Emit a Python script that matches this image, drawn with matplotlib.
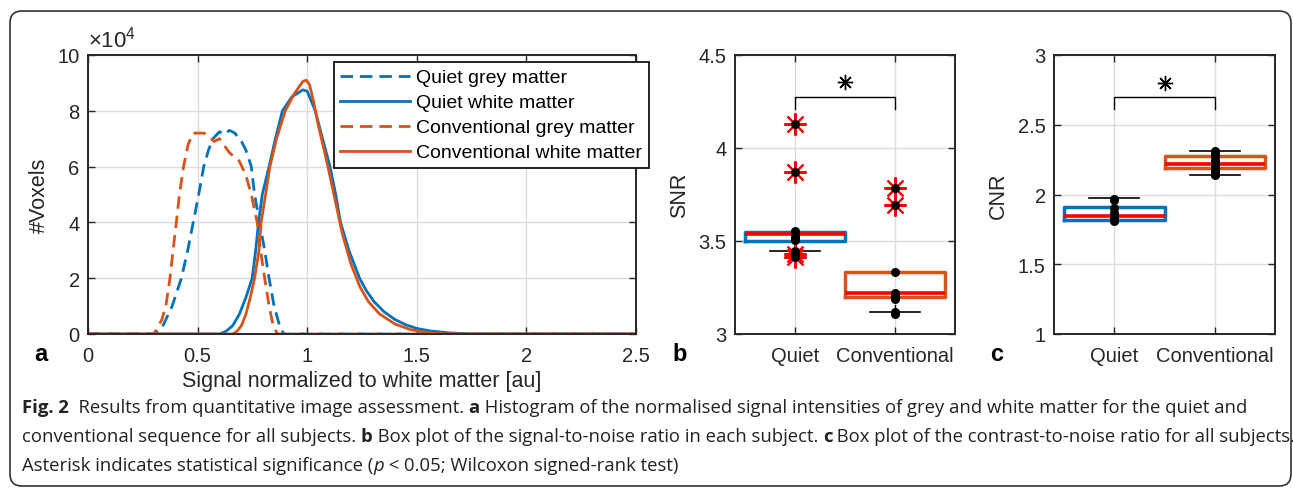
import numpy as np
import matplotlib
matplotlib.use("Agg")
import matplotlib.pyplot as plt
from matplotlib.patches import FancyBboxPatch
from matplotlib.transforms import IdentityTransform
from matplotlib import font_manager

W, H = 1293, 489
BLUE = "#0072BD"
ORANGE = "#D95319"
DARK = "#262626"

plt.rcParams["font.family"] = ["Liberation Sans", "DejaVu Sans"]
plt.rcParams["mathtext.fontset"] = "custom"
plt.rcParams["mathtext.rm"] = "Liberation Sans"

# ---- panel a: histogram curves (counts) ----
qg_x = [0, 0.30, 0.336, 0.384, 0.426, 0.455, 0.48, 0.505, 0.528, 0.55, 0.57, 0.60, 0.62,
        0.645, 0.67, 0.70, 0.72, 0.745, 0.76, 0.783, 0.806, 0.826, 0.849, 0.874, 0.893, 2.5]
qg_y = [0, 0, 2000, 10000, 20000, 30000, 40000, 50000, 60000, 66000, 70000, 72500, 71500,
        73000, 72000, 69000, 66000, 60000, 50000, 40000, 30000, 20000, 10000, 3000, 0, 0]

qw_x = [0, 0.60, 0.63, 0.66, 0.69, 0.72, 0.749, 0.765, 0.778, 0.795, 0.826, 0.855, 0.887,
        0.93, 0.98, 1.00, 1.037, 1.07, 1.104, 1.13, 1.152, 1.19, 1.239, 1.27, 1.306, 1.35,
        1.40, 1.45, 1.50, 1.56, 1.65, 1.75, 2.5]
qw_y = [0, 0, 1000, 3000, 7000, 13000, 20000, 30000, 40000, 50000, 60000, 70000, 80000,
        85000, 87500, 87000, 80000, 70000, 60000, 50000, 40000, 30000, 20000, 15500, 11500,
        8000, 5200, 3300, 2000, 1100, 400, 0, 0]

cg_x = [0, 0.30, 0.336, 0.355, 0.374, 0.388, 0.403, 0.417, 0.436, 0.457, 0.48, 0.53, 0.55,
        0.575, 0.60, 0.645, 0.69, 0.72, 0.745, 0.772, 0.787, 0.806, 0.826, 0.845, 0.864, 2.5]
cg_y = [0, 0, 5000, 10000, 20000, 30000, 40000, 50000, 60000, 68000, 72000, 72000, 71000,
        69000, 70000, 65000, 62000, 57000, 50000, 40000, 30000, 20000, 10000, 3000, 0, 0]

cw_x = [0, 0.66, 0.68, 0.70, 0.72, 0.74, 0.76, 0.78, 0.79, 0.81, 0.83, 0.86, 0.90, 0.94,
        0.98, 0.995, 1.01, 1.03, 1.05, 1.08, 1.10, 1.13, 1.16, 1.20, 1.24, 1.28, 1.33, 1.40,
        1.47, 1.55, 1.62, 2.5]
cw_y = [0, 0, 1000, 3000, 7000, 13000, 20000, 30000, 40000, 50000, 60000, 70000, 80000,
        86000, 90500, 91000, 89500, 83000, 75000, 65000, 58000, 47000, 36000, 25000, 17000,
        11500, 7200, 3600, 1600, 500, 0, 0]

series_labels = ["Quiet grey matter", "Quiet white matter",
                 "Conventional grey matter", "Conventional white matter"]

# ---- panels b and c ----
groups = ["Quiet", "Conventional"]

snr_quiet = [4.13, 3.87, 3.555, 3.545, 3.538, 3.52, 3.505, 3.448, 3.43, 3.416]
snr_conv = [3.785, 3.695, 3.335, 3.22, 3.21, 3.20, 3.19, 3.12, 3.11]
snr_q1 = [3.50, 3.20]
snr_med = [3.535, 3.22]
snr_q3 = [3.55, 3.335]
snr_lo = [3.448, 3.118]
snr_hi = [3.55, 3.335]
snr_fliers = [[4.13, 3.87, 3.43, 3.416], [3.785, 3.695]]

cnr_quiet = [1.97, 1.96, 1.90, 1.87, 1.85, 1.83, 1.82, 1.81]
cnr_conv = [2.31, 2.29, 2.27, 2.24, 2.21, 2.19, 2.17, 2.15, 2.14]
cnr_q1 = [1.82, 2.188]
cnr_med = [1.848, 2.219]
cnr_q3 = [1.908, 2.278]
cnr_lo = [1.808, 2.142]
cnr_hi = [1.975, 2.312]

snr_bracket = [4.21, 4.276, 4.355]   # drop end, bar, asterisk
cnr_bracket = [2.61, 2.70, 2.80]


def px_axes(x0, x1, y0, y1):
    return fig.add_axes([x0 / W, 1 - y1 / H, (x1 - x0) / W, (y1 - y0) / H])


def style_axes(ax):
    ax.grid(True, color="#dcdcdc", lw=1)
    ax.set_axisbelow(True)
    for s in ax.spines.values():
        s.set_color(DARK)
        s.set_linewidth(1.4)
    ax.tick_params(direction="in", top=True, right=True, length=5, width=1,
                   color=DARK, labelcolor=DARK, labelsize=14.5)
    ax.tick_params(axis="x", pad=9)
    ax.tick_params(axis="y", pad=6)


fig = plt.figure(figsize=(W / 100, H / 100), dpi=100)

# ---------------- panel a ----------------
ax_a = px_axes(88, 636, 56, 335)
dash = (0, (4.5, 2.5))
ax_a.plot(qg_x, qg_y, color=BLUE, lw=2, ls=dash, label=series_labels[0])
ax_a.plot(qw_x, qw_y, color=BLUE, lw=2, label=series_labels[1])
ax_a.plot(cg_x, cg_y, color=ORANGE, lw=2, ls=dash, label=series_labels[2])
ax_a.plot(cw_x, cw_y, color=ORANGE, lw=2, label=series_labels[3])
ax_a.set_xlim(0, 2.5)
ax_a.set_ylim(0, 100000)
xt = [0, 0.5, 1, 1.5, 2, 2.5]
ax_a.set_xticks(xt, ["0", "0.5", "1", "1.5", "2", "2.5"])
yt = [0, 20000, 40000, 60000, 80000, 100000]
ax_a.set_yticks(yt, [str(int(v / 10000)) for v in yt])
style_axes(ax_a)
ax_a.set_xlabel("Signal normalized to white matter [au]", fontsize=15.5, color=DARK)
ax_a.xaxis.set_label_coords(0.5, -(371 - 335) / 279)
ax_a.set_ylabel("#Voxels", fontsize=15.5, color=DARK)
ax_a.yaxis.set_label_coords(-(88 - 50) / 548, 0.5)
ax_a.text(0.0, 1.012, r"$\times10^{4}$", transform=ax_a.transAxes, fontsize=16,
          color=DARK, ha="left", va="bottom")
leg = ax_a.legend(loc="upper right", bbox_to_anchor=(649 / W, 1 - 63 / H),
                  bbox_transform=fig.transFigure, fontsize=14, frameon=True,
                  fancybox=False, framealpha=1, edgecolor="#111111", borderpad=0.35,
                  handlelength=3.6, handletextpad=0.3, labelspacing=0.38,
                  borderaxespad=0)
leg.get_frame().set_linewidth(1.3)


def box_panel(ax, q1, med, q3, lo, hi, fliers, dots, bracket, ylim, yticks, ylabel):
    stats = []
    for i in range(2):
        stats.append(dict(q1=q1[i], med=med[i], q3=q3[i], whislo=lo[i], whishi=hi[i],
                          fliers=fliers[i] if fliers else []))
    bp = ax.bxp(stats, positions=[1, 2], widths=1.0, capwidths=0.5,
                boxprops=dict(lw=2.5, zorder=3), medianprops=dict(color="red", lw=2.6, zorder=3.1),
                whiskerprops=dict(color="black", lw=1, ls="--", zorder=2),
                capprops=dict(color="black", lw=1.2, zorder=2),
                flierprops=dict(marker=(8, 2, 0), markeredgecolor="red", markersize=16,
                                markeredgewidth=1.5, linestyle="none"))
    for b, c in zip(bp["boxes"], [BLUE, ORANGE]):
        b.set_color(c)
    for i, d in enumerate(dots):
        ax.plot([i + 1] * len(d), d, "o", color="black", ms=5.5, zorder=5)
    ax.plot([1, 1, 2, 2], [bracket[0], bracket[1], bracket[1], bracket[0]],
            color="black", lw=1)
    ax.plot([1.5], [bracket[2]], marker=(8, 2, 0), color="black", ms=11, mew=1.0)
    ax.set_xlim(0.4, 2.6)
    ax.set_ylim(*ylim)
    ax.set_yticks(yticks, [f"{v:g}" for v in yticks])
    ax.set_xticks([1, 2], groups)
    style_axes(ax)
    ax.set_ylabel(ylabel, fontsize=15.5, color=DARK)


ax_b = px_axes(735, 955, 56, 335)
box_panel(ax_b, snr_q1, snr_med, snr_q3, snr_lo, snr_hi, snr_fliers,
          [snr_quiet, snr_conv], snr_bracket, (3, 4.5), [3, 3.5, 4, 4.5], "SNR")
ax_b.yaxis.set_label_coords(-(735 - 690) / 220, 0.5)

ax_c = px_axes(1054, 1275, 56, 335)
box_panel(ax_c, cnr_q1, cnr_med, cnr_q3, cnr_lo, cnr_hi, None,
          [cnr_quiet, cnr_conv], cnr_bracket, (1, 3), [1, 1.5, 2, 2.5, 3], "CNR")
ax_c.yaxis.set_label_coords(-(1054 - 1009) / 221, 0.5)

for letter, x in [("a", 41), ("b", 680), ("c", 997)]:
    fig.text(x / W, 1 - 355 / H, letter, fontsize=17, fontweight="bold",
             ha="center", va="center", color="black")

# ---- outer frame ----
frame = FancyBboxPatch((10, 2), 1281, 475, boxstyle="round,pad=0,rounding_size=12",
                       transform=IdentityTransform(), fill=False, ec="#333333", lw=1.2)
fig.patches.append(frame)

# ---- caption ----
names = {f.name for f in font_manager.fontManager.ttflist}
cap_font = ["Liberation Sans Narrow"] if "Liberation Sans Narrow" in names else ["Open Sans"]
cap_font = cap_font + ["DejaVu Sans"]

caption = [
    [("Fig. 2", "bold", "normal"), ("  Results from quantitative image assessment. ", "normal", "normal"),
     ("a", "bold", "normal"),
     (" Histogram of the normalised signal intensities of grey and white matter for the quiet and",
      "normal", "normal")],
    [("conventional sequence for all subjects. ", "normal", "normal"), ("b", "bold", "normal"),
     (" Box plot of the signal-to-noise ratio in each subject. ", "normal", "normal"),
     ("c", "bold", "normal"),
     (" Box plot of the contrast-to-noise ratio for all subjects.", "normal", "normal")],
    [("Asterisk indicates statistical significance (", "normal", "normal"),
     ("p", "normal", "italic"), (" < 0.05; Wilcoxon signed-rank test)", "normal", "normal")],
]
renderer = fig.canvas.get_renderer()


def draw_line(runs, x, y, size):
    for s, w, st in runs:
        t = fig.text(x / W, 1 - y / H, s, fontsize=size, fontweight=w, fontstyle=st,
                     family=cap_font, va="baseline", ha="left", color="#222222")
        x += t.get_window_extent(renderer).width
    return x


# size the caption so the second line fills the frame as in the figure
probe = fig.text(0, 0, "".join(r[0] for r in caption[1]), fontsize=12, family=cap_font)
wid = probe.get_window_extent(renderer).width
probe.remove()
cap_size = 12 * (1284 - 22) / wid
for runs, y in zip(caption, [413, 442, 471]):
    draw_line(runs, 22, y, cap_size)

fig.savefig("out.png", dpi=100)
